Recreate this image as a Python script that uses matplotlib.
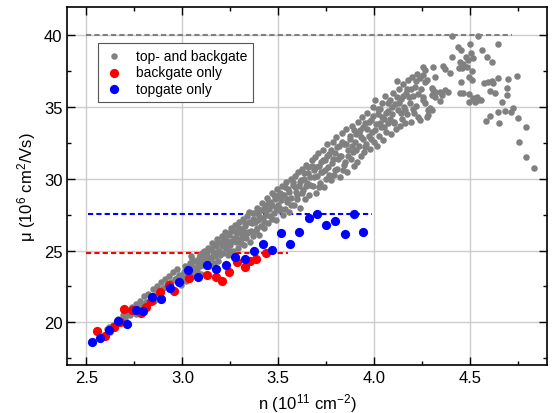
import matplotlib
matplotlib.use('Agg')
import matplotlib.pyplot as plt
from matplotlib.ticker import MultipleLocator

plt.rcParams['font.family'] = ['Liberation Sans', 'DejaVu Sans']
plt.rcParams['mathtext.fontset'] = 'custom'
plt.rcParams['mathtext.rm'] = 'Liberation Sans'
plt.rcParams['mathtext.it'] = 'Liberation Sans:italic'

## data
# top- and backgate (gray)
gray_n = [
    2.585, 2.605, 2.622, 2.638, 2.651, 2.664, 2.678, 2.689, 2.701, 2.713, 2.726, 2.738, 2.747, 2.759, 2.768,
    2.780, 2.791, 2.802, 2.811, 2.823, 2.834, 2.846, 2.857, 2.866, 2.888, 2.878, 2.897, 2.908, 2.918, 2.929,
    2.940, 2.951, 2.962, 2.973, 2.984,
    2.620, 2.700, 2.760, 2.810, 2.850, 2.890, 2.930, 2.970,
    2.995, 3.003, 3.008, 3.012, 2.998, 3.018,
    3.035, 3.041, 3.047, 3.052, 3.058, 3.063, 3.044,
    3.075, 3.082, 3.088, 3.094, 3.101, 3.107, 3.112, 3.097,
    3.123, 3.129, 3.135, 3.141, 3.147, 3.152, 3.158, 3.163,
    3.171, 3.176, 3.182, 3.188, 3.193, 3.199, 3.205, 3.211, 3.216,
    3.222, 3.228, 3.233, 3.239, 3.244, 3.251, 3.256, 3.262, 3.267,
    3.273, 3.279, 3.284, 3.290, 3.296, 3.301, 3.307, 3.312, 3.318, 3.322,
    3.327, 3.333, 3.338, 3.344, 3.349, 3.355, 3.361, 3.366, 3.371,
    3.377, 3.382, 3.388, 3.393, 3.399, 3.404, 3.410, 3.415, 3.421,
    3.426, 3.432, 3.437, 3.443, 3.448, 3.454, 3.459, 3.465, 3.470,
    3.476, 3.481, 3.487, 3.492, 3.498, 3.503, 3.509, 3.514, 3.520, 3.525,
    3.531, 3.536, 3.542, 3.547, 3.553, 3.558, 3.564, 3.569, 3.575,
    3.580, 3.586, 3.591, 3.597, 3.602, 3.608, 3.613, 3.619, 3.624,
    3.630, 3.635, 3.641, 3.646, 3.652, 3.657, 3.663, 3.668, 3.674,
    3.679, 3.685, 3.690, 3.696, 3.701, 3.707, 3.712, 3.718, 3.723,
    3.729, 3.734, 3.740, 3.745, 3.751, 3.756, 3.762, 3.767, 3.773,
    3.778, 3.784, 3.789, 3.795, 3.800, 3.806, 3.811, 3.817, 3.822,
    3.828, 3.833, 3.839, 3.844, 3.850, 3.855, 3.861, 3.866, 3.872,
    3.877, 3.883, 3.888, 3.894, 3.899, 3.905, 3.910, 3.916, 3.921,
    3.927, 3.932, 3.938, 3.943, 3.949, 3.954, 3.960, 3.965, 3.971,
    3.976, 3.982, 3.987, 3.993, 3.998, 4.004, 4.009, 4.015, 4.020,
    4.026, 4.031, 4.037, 4.042, 4.048, 4.053, 4.059, 4.064, 4.070,
    4.075, 4.081, 4.086, 4.092, 4.097, 4.103, 4.108, 4.114, 4.118,
    4.124, 4.130, 4.135, 4.141, 4.146, 4.152, 4.157, 4.163, 4.168,
    4.174, 4.179, 4.185, 4.190, 4.196, 4.201, 4.207, 4.212, 4.218, 4.224, 4.230,
    # second pass over the dense band
    3.015, 3.027, 3.038, 3.055, 3.068, 3.079, 3.091, 3.104, 3.118, 3.126, 3.138, 3.149, 3.161, 3.168,
    3.179, 3.186, 3.196, 3.208, 3.219, 3.231, 3.241, 3.249, 3.259, 3.270, 3.281, 3.293, 3.304, 3.315,
    3.325, 3.336, 3.347, 3.358, 3.368, 3.380, 3.391, 3.402, 3.413, 3.424, 3.435, 3.446, 3.457, 3.468,
    3.479, 3.490, 3.501, 3.512, 3.523, 3.534, 3.545, 3.556, 3.567, 3.578, 3.589, 3.600, 3.611, 3.622,
    3.633, 3.644, 3.655, 3.666, 3.677, 3.688, 3.699, 3.710, 3.721, 3.732, 3.743, 3.754, 3.765, 3.776,
    3.787, 3.798, 3.809, 3.820, 3.831, 3.842, 3.853, 3.864, 3.875, 3.886, 3.897, 3.908, 3.919, 3.930,
    3.941, 3.952, 3.963, 3.974, 3.985, 3.996, 4.007, 4.018, 4.029, 4.040, 4.051, 4.062, 4.073, 4.084,
    4.095, 4.106, 4.117, 4.128, 4.139, 4.150, 4.161, 4.172, 4.183, 4.194, 4.205, 4.216, 4.227, 4.238, 4.246,
    # upper end and tail
    4.408, 4.544, 4.648, 4.500, 4.436, 4.452, 4.565, 4.405, 4.478, 4.492, 4.504, 4.518, 4.588, 4.614,
    4.448, 4.466, 4.444, 4.483, 4.457, 4.509, 4.396, 4.361, 4.370, 4.309, 4.318,
    4.257, 4.266, 4.257, 4.266, 4.275, 4.454, 4.497, 4.509, 4.648, 4.700, 4.744,
    4.575, 4.596, 4.614, 4.622, 4.605, 4.631, 4.695, 4.695, 4.666, 4.448, 4.466, 4.497,
    4.518, 4.527, 4.544, 4.558, 4.539, 4.497, 4.344, 4.353, 4.370, 4.387, 4.344,
    4.300, 4.309, 4.318, 4.300, 4.318,
    4.257, 4.257, 4.266, 4.292, 4.300, 4.283, 4.275, 4.283, 4.240,
    4.584, 4.605, 4.652, 4.648, 4.683, 4.713, 4.723, 4.750, 4.791, 4.756, 4.793, 4.836,
]
gray_mu = [
    19.0, 19.5, 19.3, 19.8, 19.6, 20.2, 20.0, 20.5, 20.3, 20.8, 20.5, 21.1, 20.7, 21.3, 21.0,
    21.5, 21.2, 21.8, 21.4, 22.0, 21.6, 22.3, 21.9, 22.5, 22.8, 22.1, 22.4, 23.0, 22.6, 23.2,
    22.8, 23.5, 23.0, 23.7, 23.3,
    19.7, 20.6, 20.6, 21.0, 21.5, 22.2, 22.3, 23.1,
    22.6, 23.0, 23.5, 23.9, 23.3, 22.9,
    23.0, 23.5, 24.0, 24.4, 23.3, 23.8, 24.6,
    23.6, 24.1, 24.5, 23.9, 24.8, 24.3, 25.0, 23.4,
    24.2, 24.7, 25.2, 23.9, 24.5, 25.5, 24.9, 24.1,
    24.6, 25.3, 25.8, 24.3, 25.0, 25.6, 26.0, 24.8, 25.4,
    26.3, 25.1, 25.7, 24.7, 26.1, 25.4, 26.6, 25.0, 25.9,
    26.8, 25.6, 26.2, 25.2, 27.0, 26.5, 25.8, 26.1, 27.2, 25.4,
    26.7, 25.9, 27.4, 26.3, 27.7, 25.6, 26.9, 27.2, 26.0,
    27.6, 26.4, 28.0, 27.1, 26.1, 27.8, 26.7, 28.3, 27.3,
    26.6, 28.1, 27.5, 28.7, 26.9, 27.9, 28.4, 27.2, 29.0,
    27.6, 28.6, 27.1, 29.3, 28.2, 27.8, 29.0, 28.5, 29.5, 27.5,
    28.9, 27.9, 29.8, 28.4, 29.3, 27.7, 30.0, 28.7, 29.6,
    28.2, 30.2, 29.1, 28.6, 30.5, 29.5, 28.0, 29.9, 30.7,
    29.2, 30.4, 28.6, 31.0, 29.7, 30.8, 28.9, 30.1, 31.3,
    29.5, 30.6, 31.5, 29.0, 30.2, 31.8, 30.9, 29.7, 31.2,
    30.5, 32.0, 29.4, 31.3, 30.0, 32.4, 30.8, 31.7, 29.9,
    31.1, 32.6, 30.3, 31.8, 32.9, 30.7, 31.4, 32.3, 30.1,
    31.6, 33.2, 30.6, 32.4, 31.2, 33.5, 30.5, 32.0, 32.8,
    31.4, 33.7, 31.9, 30.9, 32.6, 33.1, 31.2, 34.0, 32.3,
    33.4, 31.6, 34.3, 32.8, 31.9, 33.9, 32.4, 34.6, 33.0,
    32.1, 34.1, 33.3, 35.0, 32.6, 35.5, 33.8, 32.3, 34.5,
    33.0, 34.9, 33.6, 35.3, 32.7, 34.2, 35.8, 33.3, 34.7,
    33.9, 35.5, 33.1, 34.5, 36.0, 34.0, 35.2, 33.5, 36.8,
    34.8, 36.3, 33.7, 35.6, 34.2, 36.6, 35.0, 33.9, 36.0,
    34.5, 36.9, 35.3, 34.0, 37.1, 35.8, 34.6, 36.4, 35.1, 37.3, 34.3,
    23.6, 23.2, 24.1, 23.6, 24.3, 23.9, 24.7, 24.0, 24.6, 25.0, 24.4, 25.1, 24.6, 25.4,
    24.9, 25.6, 24.7, 25.3, 25.9, 25.4, 26.2, 25.0, 25.7, 26.4, 25.9, 26.6, 25.5, 26.4,
    26.9, 26.2, 27.0, 26.4, 27.6, 27.0, 26.6, 27.4, 27.8, 27.0, 27.8, 28.3, 27.4, 28.2,
    28.9, 28.0, 28.8, 27.9, 28.9, 29.4, 28.6, 29.1, 28.2, 29.8, 29.4, 28.9, 29.8, 29.0,
    30.0, 29.5, 30.4, 29.6, 30.9, 30.1, 30.8, 29.4, 30.5, 31.3, 30.6, 31.6, 30.3, 32.0,
    31.4, 30.6, 32.2, 31.6, 32.6, 31.0, 32.4, 31.6, 33.0, 32.3, 33.4, 32.0, 33.2, 32.9,
    33.6, 32.2, 33.5, 34.0, 32.8, 34.4, 33.4, 34.9, 33.9, 34.3, 33.6, 34.6, 35.3, 34.2,
    35.0, 33.9, 35.7, 35.3, 34.6, 35.8, 34.8, 36.3, 35.7, 36.3, 34.9, 36.8, 35.9, 37.0, 36.3,
    39.93, 39.93, 39.39, 39.39, 39.23, 38.99, 38.99, 38.48, 38.53, 38.29, 38.76, 38.46, 38.53, 38.18,
    38.13, 37.99, 37.76, 37.83, 37.71, 37.52, 37.36, 37.90, 37.66, 37.83, 37.13,
    37.83, 37.59, 37.24, 36.78, 36.89, 36.78, 37.13, 36.89, 37.06, 36.94, 37.17,
    36.66, 36.78, 36.82, 36.66, 36.12, 36.00, 36.36, 35.84, 35.33, 35.96, 35.96, 35.89,
    35.61, 35.37, 35.49, 35.49, 35.73, 35.33, 36.08, 35.84, 36.19, 36.08, 35.42,
    36.31, 36.19, 36.08, 35.84, 35.73,
    35.73, 35.49, 35.26, 34.91, 34.79, 34.44, 34.32, 34.79, 34.09,
    34.02, 34.39, 33.92, 34.67, 34.74, 34.67, 34.91, 34.25, 33.62, 32.57, 31.52, 30.77,
]

# backgate only (red)
red_n = [2.557, 2.599, 2.641, 2.674, 2.696, 2.740, 2.783, 2.810, 2.839, 2.886, 2.931, 2.957,
         3.035, 3.131, 3.178, 3.208, 3.243, 3.283, 3.325, 3.352, 3.385, 3.434]
red_mu = [19.42, 19.07, 19.68, 20.00, 20.94, 20.87, 20.63, 21.08, 21.45, 22.10, 22.62, 22.15,
          23.06, 23.32, 23.13, 22.85, 23.53, 24.20, 23.85, 24.27, 24.44, 24.84]

# topgate only (blue)
blue_n = [2.531, 2.573, 2.618, 2.667, 2.710, 2.757, 2.795, 2.841, 2.888, 2.935, 2.983, 3.032,
          3.081, 3.129, 3.178, 3.225, 3.274, 3.325, 3.372, 3.420, 3.467, 3.514, 3.560, 3.610,
          3.658, 3.702, 3.749, 3.796, 3.847, 3.895, 3.942]
blue_mu = [18.65, 18.88, 19.49, 20.07, 19.91, 20.87, 20.82, 21.75, 21.59, 22.41, 22.83, 23.64,
           23.15, 23.99, 23.74, 24.02, 24.58, 24.39, 25.00, 25.47, 25.07, 26.26, 25.49, 26.33,
           27.27, 27.57, 26.80, 27.04, 26.17, 27.57, 26.31]

# dashed reference levels: (n start, n end, mu)
gray_level = (2.5, 4.72, 40.0)
red_level = (2.5, 3.55, 24.85)
blue_level = (2.51, 3.99, 27.55)

fig = plt.figure(figsize=(5.53, 4.14), dpi=100)
ax = fig.add_axes([0.1217, 0.1152, 0.8669, 0.866])

ax.plot(gray_level[:2], [gray_level[2]]*2, ls=(0, (2.5, 1.5)), color='#808080', lw=1.5, zorder=2)
ax.plot(red_level[:2], [red_level[2]]*2, ls=(0, (2.5, 1.5)), color='#ff0000', lw=1.5, zorder=2)
ax.plot(blue_level[:2], [blue_level[2]]*2, ls=(0, (2.5, 1.5)), color='#0000ff', lw=1.5, zorder=2)

ax.scatter(gray_n, gray_mu, s=22, color='#808080', lw=0, label='top- and backgate', zorder=3)
ax.scatter(red_n, red_mu, s=44, color='#ff0000', lw=0, label='backgate only', zorder=4)
ax.scatter(blue_n, blue_mu, s=44, color='#0000ff', lw=0, label='topgate only', zorder=5)

ax.set_xlim(2.4, 4.9)
ax.set_ylim(17, 42)
ax.xaxis.set_major_locator(MultipleLocator(0.5))
ax.xaxis.set_minor_locator(MultipleLocator(0.25))
ax.yaxis.set_major_locator(MultipleLocator(5))
ax.yaxis.set_minor_locator(MultipleLocator(2.5))
ax.tick_params(which='both', direction='in', top=True, right=True, width=1, labelsize=12)
ax.tick_params(which='major', length=6)
ax.tick_params(which='minor', length=3)
for sp in ax.spines.values():
    sp.set_linewidth(1.2)

ax.grid(True, which='major', color='#cccccc', lw=1)
ax.set_axisbelow(True)

ax.set_xlabel('n (10$^{11}$ cm$^{-2}$)', fontsize=12, labelpad=4)
ax.set_ylabel('μ (10$^{6}$ cm$^{2}$/Vs)', fontsize=12, labelpad=4)

leg = ax.legend(loc='upper left', bbox_to_anchor=(0.0647, 0.899), borderaxespad=0,
                fontsize=10, handlelength=1.5, labelspacing=0.2, fancybox=False,
                scatterpoints=1, framealpha=1)
leg.get_frame().set_edgecolor('#555555')
leg.get_frame().set_linewidth(0.8)

fig.savefig('out.png', dpi=100)
